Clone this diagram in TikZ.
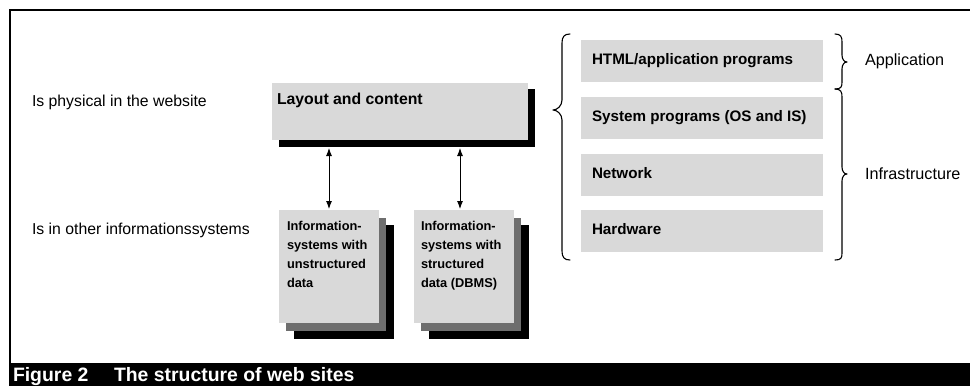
\documentclass[tikz,border=0pt]{standalone}
\usepackage{fontspec}
\setmainfont{Liberation Sans}
\usetikzlibrary{arrows.meta}
\definecolor{boxgray}{HTML}{D9D9D9}
\definecolor{midgray}{HTML}{6E6E6E}
\begin{document}
\begin{tikzpicture}[x=1pt,y=-1pt,
  plain/.style={inner sep=0pt, outer sep=0pt},
  sidelabel/.style={plain, anchor=base west, font=\fontsize{15.8}{19}\selectfont},
  bracelabel/.style={plain, anchor=base west, font=\fontsize{16.2}{19}\selectfont},
  boxtext/.style={plain, anchor=base west, font=\bfseries\fontsize{15.2}{19}\selectfont},
  smalltext/.style={plain, anchor=north west, align=left, font=\bfseries\fontsize{12.8}{19}\selectfont},
  captext/.style={plain, anchor=base west, text=white, font=\bfseries\fontsize{19.4}{22}\selectfont},
  lightbox/.style={plain, fill=boxgray, minimum width=#1},
  midshadow/.style={plain, fill=midgray, minimum width=#1},
  darkshadow/.style={plain, fill=black, minimum width=#1},
  biarrow/.style={line width=0.9pt, {Latex[length=8pt,width=6pt]}-{Latex[length=8pt,width=6pt]}},
  bracepath/.style={line width=1.1pt, line cap=round, line join=round}
]
\useasboundingbox (0,0) rectangle (970,386);

% frame and caption bar
\draw[line width=2.2pt] (10,363) -- (10,10) -- (970,10);
\fill[black] (9,362.5) rectangle (970,386);
\node[captext] (fig) at (13,381) {Figure 2};
\node[captext] (title) at (114,381) {The structure of web sites};

% side labels
\node[sidelabel] (phys) at (32,106) {Is physical in the website};
\node[sidelabel] (other) at (32,234) {Is in other informationssystems};

% layout and content
\node[darkshadow=256pt, minimum height=58pt] (layshadow) at (407,118) {};
\node[lightbox=256pt, minimum height=57pt] (lay) at (400,111.5) {};
\node[boxtext, font=\bfseries\fontsize{15.8}{19}\selectfont] (laytext) at (277,104) {Layout and content};

% information systems boxes
\node[darkshadow=100pt, minimum height=114pt] (ubk) at (344,282) {};
\node[midshadow=100pt, minimum height=113pt] (ubm) at (336,274.5) {};
\node[lightbox=100pt, minimum height=113pt] (ub) at (329,266.5) {};
\node[smalltext] (ubtext) at (287,221.5) {Information-\\systems with\\unstructured\\data};

\node[darkshadow=100pt, minimum height=114pt] (sbk) at (479,282) {};
\node[midshadow=100pt, minimum height=113pt] (sbm) at (471,274.5) {};
\node[lightbox=100pt, minimum height=113pt] (sb) at (464,266.5) {};
\node[smalltext] (sbtext) at (421,221.5) {Information-\\systems with\\structured\\data (DBMS)};

% arrows
\draw[biarrow] ([yshift=-1pt]layshadow.south -| ub.north) -- ([yshift=1pt]ub.north);
\draw[biarrow] ([yshift=-1pt,xshift=-4pt]layshadow.south -| sb.north) -- ([yshift=1pt,xshift=-4pt]sb.north);

% right stack
\node[lightbox=242pt, minimum height=42pt] (r1) at (702,61) {};
\node[lightbox=242pt, minimum height=42pt] (r2) at (702,118) {};
\node[lightbox=242pt, minimum height=42pt] (r3) at (702,175) {};
\node[lightbox=242pt, minimum height=42pt] (r4) at (702,231) {};
\node[boxtext] (t1) at (592,64) {HTML/application programs};
\node[boxtext] (t2) at (592,121) {System programs (OS and IS)};
\node[boxtext] (t3) at (592,178) {Network};
\node[boxtext] (t4) at (592,234) {Hardware};

% left brace
\draw[bracepath] (570,34) .. controls (564,34) and (562,37) .. (562,43)
  -- (562,100) .. controls (562,106) and (557,110) .. (553,110)
  .. controls (557,110) and (562,114) .. (562,120)
  -- (562,251) .. controls (562,257) and (564,260) .. (570,260);

% right braces
\draw[bracepath] (835,34) .. controls (841,34) and (842,37) .. (842,42)
  -- (842,55) .. controls (842,59) and (844,62) .. (847,62)
  .. controls (844,62) and (842,65) .. (842,69)
  -- (842,82) .. controls (842,87) and (841,89) .. (835,89);
\draw[bracepath] (835,89) .. controls (841,89) and (842,92) .. (842,97)
  -- (842,167) .. controls (842,171) and (844,174) .. (847,174)
  .. controls (844,174) and (842,177) .. (842,181)
  -- (842,253) .. controls (842,258) and (841,260) .. (835,260);

\node[bracelabel] (app) at (865,65) {Application};
\node[bracelabel] (infra) at (865,179) {Infrastructure};
\end{tikzpicture}
\end{document}
